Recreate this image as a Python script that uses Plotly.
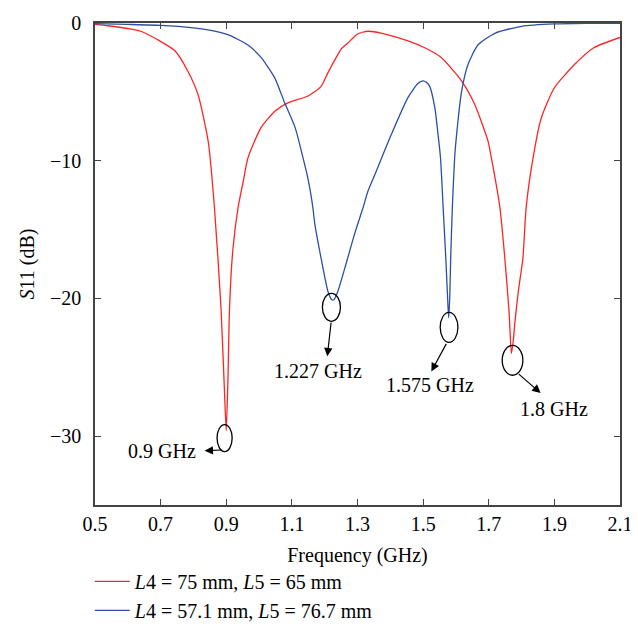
import plotly.graph_objects as go

# ---- data ----
freq_red = [0.5, 0.54, 0.6, 0.64, 0.69, 0.743, 0.783, 0.814, 0.845, 0.864, 0.884, 0.895, 0.9,
            0.905, 0.91, 0.92, 0.936, 0.951, 0.966, 1.006, 1.048, 1.088, 1.149, 1.189, 1.21,
            1.24, 1.25, 1.271, 1.30, 1.332, 1.372, 1.454, 1.505, 1.555, 1.617, 1.657, 1.698,
            1.708, 1.734, 1.749, 1.762, 1.769, 1.775, 1.779, 1.79, 1.804, 1.814, 1.835, 1.86,
            1.90, 1.962, 2.02, 2.1]
s11_red = [-0.1, -0.2, -0.4, -0.6, -1.2, -2.0, -3.5, -5.2, -8.6, -13.4, -20.7, -27.0, -29.6,
           -26.0, -20.7, -16.5, -13.4, -11.6, -9.8, -7.6, -6.4, -5.8, -5.3, -4.6, -3.6,
           -2.3, -1.9, -1.45, -0.8, -0.6, -0.73, -1.3, -1.8, -2.5, -4.2, -5.9, -8.6,
           -9.8, -13.4, -17.1, -21.0, -24.0, -23.0, -21.9, -19.5, -17.1, -13.4, -9.8, -6.9,
           -4.7, -3.0, -1.8, -1.05]

freq_blue = [0.5, 0.6, 0.70, 0.8, 0.845, 0.905, 0.966, 1.006, 1.048, 1.078, 1.11, 1.134,
             1.149, 1.164, 1.17, 1.19, 1.21, 1.222, 1.228, 1.24, 1.265, 1.29, 1.317, 1.332,
             1.353, 1.403, 1.454, 1.484, 1.499, 1.51, 1.52, 1.536, 1.545, 1.553, 1.561, 1.57,
             1.576, 1.578, 1.581, 1.584, 1.589, 1.596, 1.60, 1.617, 1.637, 1.667, 1.72, 1.8,
             1.90, 2.0, 2.1]
s11_blue = [-0.05, -0.1, -0.17, -0.35, -0.5, -0.85, -1.6, -2.5, -4.0, -5.8, -7.6, -9.8,
            -11.3, -13.4, -14.6, -17.2, -19.5, -20.1, -20.1, -19.5, -17.5, -15.4, -13.4, -12.2,
            -11.0, -8.1, -5.4, -4.4, -4.2, -4.3, -4.6, -6.2, -8.0, -9.8, -13.4, -17.5,
            -20.7, -21.4, -20.0, -17.1, -13.4, -9.8, -8.6, -5.0, -3.0, -1.6, -0.73, -0.24,
            -0.07, -0.03, -0.02]

series_names = ["<i>L</i>4 = 75 mm, <i>L</i>5 = 65 mm",
                "<i>L</i>4 = 57.1 mm, <i>L</i>5 = 76.7 mm"]

x_ticks = [0.5, 0.7, 0.9, 1.1, 1.3, 1.5, 1.7, 1.9, 2.1]
x_tick_text = ["0.5", "0.7", "0.9", "1.1", "1.3", "1.5", "1.7", "1.9", "2.1"]
y_ticks = [0, -10, -20, -30]
y_tick_text = ["0", "\u221210", "\u221220", "\u221230"]

# resonance call-outs: label, ellipse box (x0, x1, y0, y1), arrow tail, arrow head, label position
callout_labels = ["0.9 GHz", "1.227 GHz", "1.575 GHz", "1.8 GHz"]
callout_ellipses = [(0.872, 0.918, -29.16, -31.12), (1.193, 1.248, -19.63, -21.66),
                    (1.552, 1.606, -21.01, -23.19), (1.741, 1.804, -23.41, -25.58)]
callout_tails = [(0.890, -31.0), (1.220, -21.64), (1.573, -23.19), (1.787, -25.4)]
callout_heads = [(0.834, -31.06), (1.208, -24.2), (1.525, -25.3), (1.858, -26.87)]
callout_text_pos = [(0.705, -31.1), (1.18, -25.3), (1.52, -26.25), (1.898, -28.05)]

FONT = "Liberation Serif"
FS = 20

fig = go.Figure()
fig.add_trace(go.Scatter(x=freq_red, y=s11_red, mode="lines", name=series_names[0],
                         line=dict(color="#ff2424", width=1.3, shape="spline", smoothing=0.6)))
fig.add_trace(go.Scatter(x=freq_blue, y=s11_blue, mode="lines", name=series_names[1],
                         line=dict(color="#2c4fa3", width=1.3, shape="spline", smoothing=0.6)))

for (x0, x1, y0, y1) in callout_ellipses:
    fig.add_shape(type="circle", xref="x", yref="y", x0=x0, x1=x1, y0=y0, y1=y1,
                  line=dict(color="black", width=1.3))

for lab, tail, head, tp in zip(callout_labels, callout_tails, callout_heads, callout_text_pos):
    fig.add_annotation(x=head[0], y=head[1], ax=tail[0], ay=tail[1], xref="x", yref="y",
                       axref="x", ayref="y", showarrow=True, arrowhead=2, arrowsize=1.4,
                       arrowwidth=1.2, arrowcolor="black", text="")
    fig.add_annotation(x=tp[0], y=tp[1], xref="x", yref="y", text=lab, showarrow=False,
                       font=dict(family=FONT, size=FS, color="black"))

axis_common = dict(showline=True, linecolor="#444", linewidth=1.5, mirror="allticks",
                   ticks="inside", ticklen=6, tickcolor="#444", tickwidth=1.2,
                   showgrid=False, zeroline=False,
                   tickfont=dict(family=FONT, size=FS, color="black"))

fig.update_xaxes(range=[0.5, 2.1], tickvals=x_ticks, ticktext=x_tick_text,
                 title=dict(text="Frequency (GHz)", font=dict(family=FONT, size=FS, color="black"),
                            standoff=14),
                 ticklabelstandoff=0, **axis_common)
fig.update_yaxes(range=[-35, 0], tickvals=y_ticks, ticktext=y_tick_text,
                 title=dict(text="<i>S</i>11 (dB)", font=dict(family=FONT, size=FS, color="black"),
                            standoff=10),
                 ticklabelstandoff=8, **axis_common)

fig.update_layout(
    width=638, height=634,
    margin=dict(l=87, r=26, t=15, b=137, autoexpand=False),
    paper_bgcolor="white", plot_bgcolor="white",
    showlegend=True,
    legend=dict(x=-0.01, xanchor="left", y=-0.118, yanchor="top",
                font=dict(family=FONT, size=FS, color="black"),
                bgcolor="rgba(0,0,0,0)", itemwidth=35, tracegroupgap=0),
)

fig.write_html("out.html")
